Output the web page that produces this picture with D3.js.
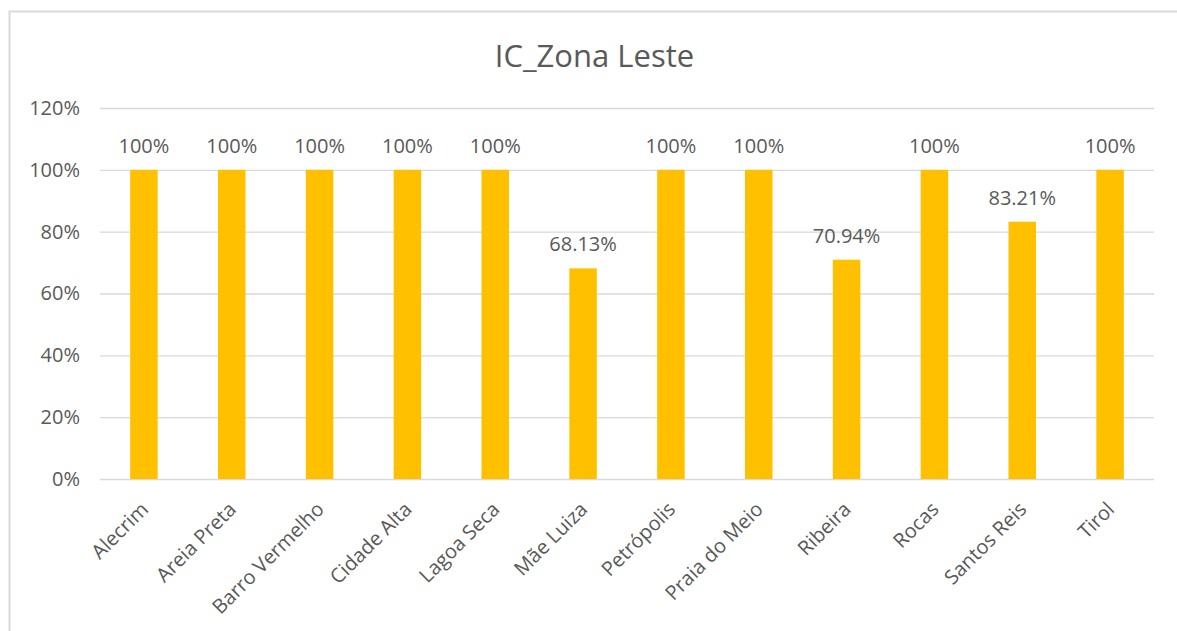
<!DOCTYPE html>
<html>
<head>
<meta charset="utf-8">
<script src="https://cdn.jsdelivr.net/npm/d3@7"></script>
<style>
body{margin:0;background:#fff}
text{font-family:"Open Sans",sans-serif;fill:#595959}
</style>
</head>
<body>
<div id="chart"></div>
<script>
var categories = ["Alecrim","Areia Preta","Barro Vermelho","Cidade Alta","Lagoa Seca","Mãe Luiza","Petrópolis","Praia do Meio","Ribeira","Rocas","Santos Reis","Tirol"]
var values = [1,1,1,1,1,0.6813,1,1,0.7094,1,0.8321,1]
var valueLabels = ["100%","100%","100%","100%","100%","68.13%","100%","100%","70.94%","100%","83.21%","100%"]
var yTicks = [0,0.2,0.4,0.6,0.8,1,1.2]
var title = "IC_Zona Leste"

var w = 1177
var h = 631
var plotLeft = 100, plotRight = 1154, plotTop = 108, plotBottom = 479

var svg = d3.select("#chart").append("svg").attr("width",w).attr("height",h)

// chart area border
svg.append("rect")
	.attr("x",9.5).attr("y",11.5)
	.attr("width",1200).attr("height",700)
	.attr("fill","none").attr("stroke","#d9d9d9").attr("stroke-width",2)

var x = d3.scaleBand().domain(categories).range([plotLeft,plotRight]).padding(0)
var y = d3.scaleLinear().domain([0,1.2]).range([plotBottom,plotTop])
var barW = x.bandwidth()*0.313

svg.append("text").text(title)
	.attr("x",w/2+6).attr("y",67)
	.attr("text-anchor","middle")
	.style("font-size","31px")

// gridlines + tick labels
var yAxis = d3.axisLeft(y).tickValues(yTicks).tickFormat(d3.format(".0%")).tickSize(-(plotRight-plotLeft)).tickPadding(20)
var gy = svg.append("g").attr("transform","translate("+plotLeft+",0)").call(yAxis)
gy.attr("font-family",null).attr("font-size",null)
gy.select(".domain").remove()
gy.selectAll(".tick line").attr("stroke","#d9d9d9").attr("stroke-width",1.3)
gy.selectAll(".tick text").style("font-size","20px").attr("fill",null)

svg.selectAll(".bar")
	.data(values)
	.enter()
	.append("rect")
	.attr("class","bar")
	.attr("x",function(d,i){return x(categories[i])+x.bandwidth()/2-barW/2})
	.attr("y",function(d){return y(d)})
	.attr("width",barW)
	.attr("height",function(d){return y(0)-y(d)})
	.attr("fill","#ffc000")

svg.selectAll(".vlabel")
	.data(values)
	.enter()
	.append("text")
	.attr("class","vlabel")
	.text(function(d,i){return valueLabels[i]})
	.attr("x",function(d,i){return x(categories[i])+x.bandwidth()/2})
	.attr("y",function(d){return y(d)-17})
	.attr("text-anchor","middle")
	.style("font-size","20px")

svg.selectAll(".clabel")
	.data(categories)
	.enter()
	.append("text")
	.attr("class","clabel")
	.text(function(d){return d})
	.attr("transform",function(d){return "translate("+(x(d)+x.bandwidth()/2-5)+","+500+") rotate(-45)"})
	.attr("dy","0.75em")
	.attr("text-anchor","end")
	.style("font-size","20px")
</script>
</body>
</html>
